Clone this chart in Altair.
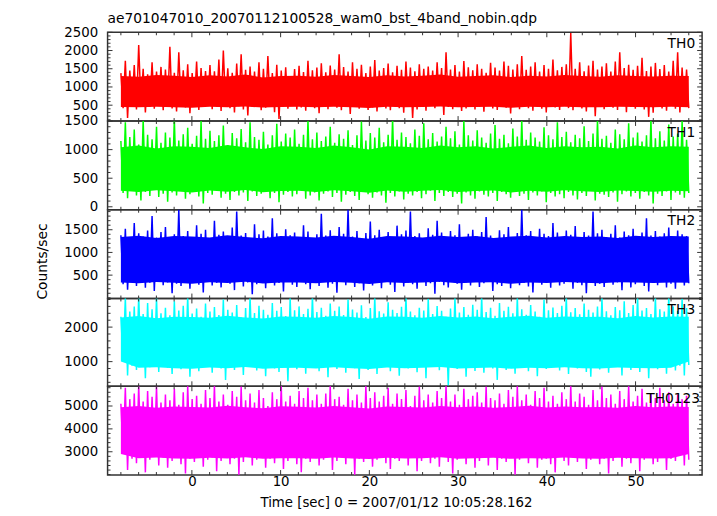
import altair as alt
import numpy as np
import pandas as pd

FONT = "DejaVu Sans"
TITLE = "ae701047010_20070112100528_wam0_bst_4band_nobin.qdp"
XTITLE = "Time [sec] 0 = 2007/01/12 10:05:28.162"
T_START, T_END = -8.0, 56.0
X_DOMAIN = [-9.5, 57.5]
X_LABELS = [0, 10, 20, 30, 40, 50]

# ---- TH0 (red): local peaks / troughs every 0.5 s, dense core every 2 s ----
TH0_HI = [1380, 1720, 1450, 1600, 2150, 1500, 1350, 1680, 1420, 1550,
          1480, 2100, 1390, 1950, 1460, 1620, 1380, 1700, 1520, 1440,
          1600, 1430, 1750, 2000, 1510, 1390, 1640, 1900, 1470, 1560,
          1420, 1680, 1500, 1850, 1380, 1610, 1450, 1540, 1300, 1490,
          1580, 1410, 1720, 1460, 1530, 1650, 1400, 1590, 1480, 1900,
          1550, 1420, 1680, 1500, 1610, 1380, 1560, 1740, 1450, 1520,
          1640, 1400, 1580, 1470, 1700, 1530, 1430, 1620, 1500, 1560,
          1450, 1680, 1520, 1950, 1480, 1600, 1420, 1710, 1540, 1460,
          1620, 1500, 1390, 1660, 1530, 1450, 1700, 1580, 1480, 1620,
          1850, 1470, 1560, 1680, 1420, 1600, 1500, 1750, 1460, 1550,
          1620, 2480, 1500, 1680, 1430, 1590, 1720, 1480, 1560, 1650,
          1420, 1700, 1950, 1520, 1610, 1470, 1580, 1800, 1440, 1560,
          1660, 1490, 1600, 1420, 1720, 1950, 1530, 1480]
TH0_LO = [420, 150, 480, 380, 520, 300, 450, 400, 530, 360,
          470, 410, 330, 500, 440, 280, 490, 370, 450, 520,
          390, 460, 340, 510, 420, 300, 470, 380, 220, 450,
          500, 360, 430, 480, 310, 120, 460, 400, 520, 380,
          440, 350, 490, 420, 280, 470, 390, 510, 430, 360,
          480, 260, 450, 400, 520, 370, 440, 330, 490, 410,
          360, 470, 420, 290, 500, 150, 380, 460, 350, 480,
          420, 500, 230, 450, 390, 470, 340, 410, 500, 380,
          450, 320, 480, 410, 370, 500, 430, 270, 460, 390,
          510, 420, 350, 470, 400, 300, 480, 440, 370, 500,
          420, 360, 490, 410, 330, 470, 200, 450, 390, 500,
          430, 370, 480, 310, 460, 400, 520, 380, 180, 290,
          470, 410, 350, 490, 400, 300, 450, 420]
TH0_CORE_HI = [1300, 1280, 1330, 1310, 1270, 1320, 1290, 1340, 1260, 1300, 1310,
               1280, 1330, 1300, 1270, 1320, 1290, 1310, 1340, 1280, 1300, 1320,
               1270, 1310, 1290, 1330, 1300, 1280, 1320, 1300, 1290, 1310, 1300]
TH0_CORE_LO = [450, 440, 460, 445, 430, 455, 440, 465, 435, 450, 455,
               440, 460, 445, 425, 455, 440, 450, 465, 440, 450, 460,
               430, 455, 440, 460, 445, 440, 455, 450, 440, 455, 445]

# ---- TH1 (green) ----
TH1_HI = [1150, 1480, 1220, 1350, 1090, 1520, 1260, 1180, 1400, 1120,
          1300, 1210, 1540, 1160, 1270, 1380, 1100, 1240, 1500, 1190,
          1330, 1150, 1250, 1420, 1080, 1290, 1200, 1360, 1130, 1480,
          1220, 1170, 1310, 1090, 1250, 1450, 1140, 1280, 1210, 1350,
          1100, 1260, 1520, 1180, 1300, 1150, 1230, 1400, 1120, 1270,
          1190, 1340, 1080, 1250, 1490, 1160, 1290, 1210, 1380, 1130,
          1260, 1540, 1170, 1300, 1220, 1110, 1350, 1240, 1460, 1180,
          1290, 1140, 1230, 1400, 1200, 1320, 1090, 1500, 1250, 1160,
          1340, 1210, 1120, 1280, 1430, 1190, 1260, 1110, 1370, 1230,
          1520, 1170, 1300, 1210, 1140, 1390, 1250, 1180, 1480, 1220,
          1310, 1130, 1260, 1200, 1410, 1150, 1280, 1520, 1190, 1240,
          1120, 1350, 1270, 1180, 1460, 1210, 1300, 1140, 1250, 1530,
          1200, 1320, 1160, 1440, 1230, 1280, 1500, 1170]
TH1_LO = [240, 150, 280, 200, 110, 260, 190, 300, 170, 230,
          90, 250, 200, 280, 140, 220, 270, 180, 60, 240,
          210, 290, 160, 230, 120, 260, 200, 250, 100, 270,
          190, 230, 280, 150, 240, 80, 210, 260, 180, 220,
          290, 140, 200, 250, 110, 230, 270, 170, 240, 90,
          210, 260, 190, 120, 280, 220, 160, 250, 200, 70,
          240, 180, 270, 130, 230, 200, 260, 150, 220, 280,
          100, 240, 190, 260, 170, 230, 60, 250, 200, 140,
          270, 210, 180, 240, 100, 260, 220, 160, 280, 190,
          230, 120, 250, 200, 270, 80, 240, 180, 220, 150,
          260, 200, 130, 240, 190, 280, 110, 230, 210, 170,
          250, 90, 220, 270, 180, 240, 140, 260, 200, 60,
          230, 190, 270, 120, 250, 210, 160, 240]
TH1_CORE_HI = [1040, 1070, 1020, 1060, 1050, 1030, 1080, 1040, 1010, 1060, 1050,
               1030, 1070, 1040, 1000, 1060, 1050, 1030, 1070, 1040, 1060, 1020,
               1050, 1070, 1030, 1060, 1040, 1050, 1020, 1070, 1040, 1060, 1050]
TH1_CORE_LO = [280, 260, 290, 270, 250, 285, 265, 295, 255, 275, 280,
               260, 290, 270, 245, 285, 265, 280, 295, 260, 275, 285,
               250, 280, 265, 290, 270, 260, 285, 275, 265, 280, 270]

# ---- TH2 (blue) ----
TH2_HI = [1380, 1520, 1300, 1650, 1420, 1350, 1480, 1800, 1330, 1450,
          1560, 1290, 1400, 1950, 1360, 1470, 1320, 1600, 1410, 1500,
          1280, 1700, 1390, 1460, 1340, 1550, 1900, 1370, 1430, 1310,
          1620, 1400, 1480, 1350, 1750, 1420, 1300, 1510, 1380, 1440,
          1330, 1600, 1460, 1290, 1400, 1850, 1370, 1490, 1320, 1560,
          1410, 1950, 1350, 1470, 1300, 1430, 1680, 1380, 1500, 1340,
          1450, 1320, 1590, 1400, 1480, 1900, 1360, 1420, 1310, 1530,
          1390, 1700, 1440, 1330, 1470, 1380, 1620, 1290, 1410, 1500,
          1350, 1450, 1780, 1370, 1310, 1490, 1400, 1560, 1340, 1430,
          1950, 1380, 1470, 1300, 1520, 1410, 1360, 1650, 1440, 1320,
          1480, 1390, 1580, 1310, 1450, 1370, 1900, 1420, 1500, 1340,
          1410, 1600, 1330, 1460, 1380, 1520, 1290, 1440, 1750, 1370,
          1470, 1350, 1420, 1550, 1310, 1480, 1400, 1360]
TH2_LO = [300, 180, 350, 260, 400, 220, 330, 150, 380, 280,
          340, 100, 310, 260, 390, 200, 350, 290, 120, 370,
          270, 330, 230, 400, 310, 170, 360, 250, 340, 80,
          300, 380, 210, 350, 270, 330, 140, 390, 290, 240,
          360, 300, 190, 340, 260, 400, 220, 310, 110, 370,
          280, 350, 240, 320, 160, 390, 270, 330, 210, 360,
          290, 130, 380, 250, 340, 300, 200, 370, 260, 320,
          90, 350, 280, 230, 390, 310, 180, 340, 270, 360,
          240, 320, 380, 150, 300, 260, 350, 210, 390, 280,
          330, 250, 120, 360, 290, 340, 220, 380, 270, 310,
          370, 200, 330, 280, 100, 350, 260, 310, 240, 380,
          290, 340, 170, 360, 230, 300, 390, 260, 140, 330,
          280, 350, 230, 310, 200, 370, 270, 320]
TH2_CORE_HI = [1340, 1370, 1320, 1360, 1350, 1330, 1380, 1340, 1310, 1360, 1350,
               1330, 1370, 1340, 1300, 1360, 1350, 1330, 1370, 1340, 1360, 1320,
               1350, 1370, 1330, 1360, 1340, 1350, 1320, 1370, 1340, 1360, 1350]
TH2_CORE_LO = [340, 320, 350, 330, 310, 345, 325, 355, 315, 335, 340,
               320, 350, 330, 305, 345, 325, 340, 355, 320, 335, 345,
               310, 340, 325, 350, 330, 320, 345, 335, 325, 340, 330]

# ---- TH3 (cyan) ----
TH3_HI = [2300, 2850, 2450, 2600, 2900, 2380, 2700, 2520, 2850, 2400,
          2560, 2340, 2750, 2480, 2620, 2900, 2390, 2540, 2300, 2680,
          2450, 2580, 2350, 2800, 2500, 2420, 2640, 2280, 2550, 2880,
          2410, 2620, 2500, 2360, 2700, 2470, 2580, 2320, 2850, 2490,
          2600, 2380, 2530, 2900, 2440, 2560, 2330, 2680, 2470, 2600,
          2350, 2800, 2510, 2420, 2630, 2290, 2550, 2880, 2460, 2390,
          2720, 2500, 2410, 2590, 2900, 2450, 2340, 2560, 2480, 2820,
          2380, 2610, 2470, 2300, 2540, 2850, 2420, 2580, 2360, 2650,
          2500, 2900, 2440, 2560, 2330, 2700, 2470, 2590, 2400, 2880,
          2520, 2360, 2640, 2450, 2300, 2800, 2490, 2570, 2410, 2620,
          2900, 2430, 2550, 2370, 2680, 2500, 2420, 2600, 2850, 2460,
          2340, 2580, 2490, 2750, 2410, 2640, 2900, 2480, 2550, 2380,
          2870, 2520, 2450, 2900, 2600, 2470, 2820, 2550]
TH3_LO = [1050, 600, 880, 760, 950, 520, 840, 900, 700, 980,
          820, 640, 930, 780, 870, 560, 960, 720, 850, 900,
          680, 940, 800, 470, 890, 760, 920, 610, 850, 980,
          740, 880, 580, 950, 800, 700, 910, 430, 860, 780,
          960, 650, 840, 900, 720, 870, 550, 930, 790, 850,
          680, 920, 810, 500, 880, 760, 950, 640, 830, 900,
          720, 860, 590, 940, 800, 870, 690, 920, 520, 850,
          900, 750, 880, 300, 960, 790, 840, 560, 910, 730,
          860, 680, 930, 800, 470, 890, 760, 940, 650, 830,
          900, 720, 860, 580, 950, 790, 840, 880, 740, 920,
          640, 870, 800, 930, 700, 560, 890, 770, 940, 680,
          850, 910, 600, 880, 760, 940, 700, 830, 520, 900,
          780, 860, 650, 920, 740, 880, 600, 900]
TH3_CORE_HI = [2280, 2320, 2260, 2300, 2290, 2270, 2330, 2280, 2250, 2310, 2300,
               2270, 2320, 2290, 2240, 2310, 2300, 2270, 2320, 2280, 2310, 2260,
               2300, 2330, 2270, 2310, 2290, 2300, 2260, 2320, 2280, 2310, 2300]
TH3_CORE_LO = [1000, 820, 840, 810, 790, 830, 805, 845, 795, 815, 820,
               800, 840, 810, 785, 830, 805, 820, 845, 800, 815, 830,
               790, 820, 805, 840, 810, 800, 830, 815, 805, 820, 1000]

# ---- TH0123 (magenta) ----
TH0123_HI = [5100, 5800, 5300, 5550, 5900, 5200, 5650, 5400, 5850, 5150,
             5500, 5250, 5750, 5050, 5600, 5900, 5300, 5450, 5100, 5700,
             5350, 5900, 5200, 5500, 5050, 5650, 5400, 5850, 5250, 5550,
             5150, 5700, 5350, 5000, 5600, 5300, 5900, 5200, 5450, 5100,
             5650, 5350, 5800, 5250, 5500, 5100, 5550, 5900, 5300, 5400,
             5050, 5750, 5250, 5500, 5150, 5900, 5350, 5600, 5200, 5450,
             5800, 5100, 5550, 5300, 5700, 5000, 5450, 5850, 5250, 5500,
             5150, 5650, 5350, 5900, 5200, 5500, 5050, 5750, 5300, 5450,
             5600, 5150, 5850, 5350, 5250, 5550, 5100, 5700, 5400, 5900,
             5250, 5500, 5050, 5650, 5350, 5800, 5200, 5450, 5100, 5600,
             5300, 5900, 5200, 5550, 5400, 5050, 5700, 5250, 5850, 5350,
             5500, 5100, 5650, 5300, 5900, 5200, 5450, 5750, 5150, 5550,
             5350, 5800, 5250, 5600, 5100, 5500, 5300, 5450]
TH0123_LO = [2900, 2200, 2700, 2500, 2800, 2100, 2650, 2850, 2400, 2750,
             2300, 2600, 2850, 2450, 2050, 2700, 2550, 2800, 2350, 2650,
             2750, 2150, 2600, 2800, 2450, 2700, 2000, 2550, 2850, 2400,
             2650, 2800, 2300, 2700, 2500, 2850, 2250, 2600, 2750, 2450,
             2100, 2700, 2550, 2850, 2400, 2650, 2800, 2200, 2600, 2750,
             2450, 2850, 2000, 2700, 2550, 2800, 2350, 2650, 2750, 2500,
             2250, 2700, 2600, 2850, 2400, 2750, 2150, 2600, 2800, 2500,
             2700, 2350, 2850, 2550, 2050, 2650, 2750, 2450, 2800, 2300,
             2600, 2750, 2400, 2850, 2200, 2700, 2550, 2800, 2000, 2650,
             2750, 2500, 2850, 2300, 2650, 2700, 2450, 2100, 2800, 2600,
             2400, 2750, 2550, 2850, 2250, 2650, 2800, 2450, 2700, 2050,
             2600, 2850, 2350, 2700, 2500, 2800, 2150, 2650, 2750, 2450,
             2550, 2800, 2200, 2700, 2600, 2850, 2400, 2650]
TH0123_CORE_HI = [4950, 5000, 4920, 4980, 4960, 4930, 5010, 4950, 4900, 4990, 4970,
                  4930, 5000, 4950, 4890, 4980, 4960, 4930, 5000, 4950, 4980, 4920,
                  4960, 5010, 4930, 4980, 4950, 4960, 4920, 5000, 4950, 4980, 4960]
TH0123_CORE_LO = [2900, 2720, 2750, 2710, 2690, 2740, 2705, 2755, 2695, 2715, 2720,
                  2700, 2750, 2710, 2680, 2740, 2705, 2720, 2755, 2700, 2715, 2740,
                  2690, 2720, 2705, 2750, 2710, 2700, 2740, 2715, 2705, 2720, 2900]

W = 603
FRAME = "#333333"

X_MAJOR = [0, 10, 20, 30, 40, 50]
X_MINOR = [v for v in range(-8, 57, 2) if v % 10 != 0]


def panel(name, hi, lo, core_hi, core_lo, color, domain, labels, minor_step, height,
          label_x=596, label_y=15.7, bottom=False, ytitle=False, title=False):
    n = len(hi)
    t = np.linspace(T_START, T_END, 2 * n)
    v = np.empty(2 * n)
    v[0::2] = hi
    v[1::2] = lo
    df = pd.DataFrame({"t": t, "v": v})
    core = pd.DataFrame({"t": np.linspace(T_START, T_END, len(core_hi)),
                         "v": core_lo, "v2": core_hi})

    xscale = alt.Scale(domain=X_DOMAIN, nice=False, zero=False)
    yscale = alt.Scale(domain=domain, nice=False, zero=False)

    yaxis_kw = dict(values=labels, format="d", ticks=False, tickSize=0, domain=False,
                    grid=False, labelPadding=10, labelFontSize=13.5, labelFont=FONT,
                    labelColor="black")
    if ytitle:
        yaxis_kw.update(title="Counts/sec", titleFont=FONT, titleFontSize=14,
                        titleFontWeight="normal", titleColor="black", titleAngle=270,
                        titleX=-62, titleY=52, titleAlign="center", titleBaseline="alphabetic")
    else:
        yaxis_kw.update(title="")
    yaxis = alt.Axis(**yaxis_kw)
    yenc = alt.Y("v:Q", scale=yscale, axis=yaxis)

    if bottom:
        xaxis = alt.Axis(values=X_LABELS, format="d", ticks=False, tickSize=0, domain=False,
                         grid=False, labelPadding=11, labelBaseline="alphabetic",
                         labelFlush=False, labelFontSize=13.5, labelFont=FONT,
                         labelColor="black", title="")
        xenc = alt.X("t:Q", scale=xscale, axis=xaxis)
    else:
        xenc = alt.X("t:Q", scale=xscale, axis=None)

    band = alt.Chart(core).mark_area(color=color, opacity=1, clip=True).encode(
        x=xenc, y=yenc, y2="v2:Q")
    line = alt.Chart(df).mark_line(
        color=color, strokeWidth=1.5, strokeJoin="bevel", clip=True
    ).encode(x=xenc, y=yenc)

    # inward ticks on all four sides
    ymaj = list(labels)
    start = int(np.ceil(domain[0] / minor_step) * minor_step)
    ymin = [val for val in range(start, int(domain[1]) + 1, minor_step) if val not in ymaj]
    layers = [band, line]
    for vals, ln in ((ymaj, 5), (ymin, 3)):
        d = pd.DataFrame({"v": vals})
        layers.append(alt.Chart(d).mark_rule(color=FRAME, strokeWidth=1).encode(
            y=yenc, x=alt.value(0), x2=alt.value(ln)))
        layers.append(alt.Chart(d).mark_rule(color=FRAME, strokeWidth=1).encode(
            y=yenc, x=alt.value(W), x2=alt.value(W - ln)))
    for vals, ln in ((X_MAJOR, 5), (X_MINOR, 3)):
        d = pd.DataFrame({"t": vals})
        layers.append(alt.Chart(d).mark_rule(color=FRAME, strokeWidth=1).encode(
            x=xenc, y=alt.value(0), y2=alt.value(ln)))
        layers.append(alt.Chart(d).mark_rule(color=FRAME, strokeWidth=1).encode(
            x=xenc, y=alt.value(height), y2=alt.value(height - ln)))

    txt = alt.Chart(pd.DataFrame({"label": [name]})).mark_text(
        align="right", baseline="alphabetic", font=FONT, fontSize=14, color="black"
    ).encode(text="label:N", x=alt.value(label_x), y=alt.value(label_y))
    layers.append(txt)

    if bottom:
        layers.append(alt.Chart(pd.DataFrame({"label": [XTITLE]})).mark_text(
            align="center", baseline="alphabetic", font=FONT, fontSize=13.5, color="black"
        ).encode(text="label:N", x=alt.value(293), y=alt.value(height + 32)))

    ch = alt.layer(*layers).properties(width=W, height=height)
    if title:
        ch = ch.properties(title=alt.TitleParams(
            TITLE, anchor="start", frame="group", font=FONT, fontSize=14,
            fontWeight="normal", color="black", baseline="alphabetic", offset=-12))
    return ch


p0 = panel("TH0", TH0_HI, TH0_LO, TH0_CORE_HI, TH0_CORE_LO, "#ff0000", [65, 2500],
           [500, 1000, 1500, 2000, 2500], 100, 90, title=True)
p1 = panel("TH1", TH1_HI, TH1_LO, TH1_CORE_HI, TH1_CORE_LO, "#00ff00", [-52, 1500],
           [0, 500, 1000, 1500], 100, 90)
p2 = panel("TH2", TH2_HI, TH2_LO, TH2_CORE_HI, TH2_CORE_LO, "#0000ff", [-15, 1940],
           [500, 1000, 1500], 100, 90, ytitle=True)
p3 = panel("TH3", TH3_HI, TH3_LO, TH3_CORE_HI, TH3_CORE_LO, "#00ffff", [286, 2829],
           [1000, 2000], 200, 89)
p4 = panel("TH0123", TH0123_HI, TH0123_LO, TH0123_CORE_HI, TH0123_CORE_LO, "#ff00ff",
           [1985, 5864], [3000, 4000, 5000], 200, 90,
           label_x=601, label_y=16.5, bottom=True)

chart = alt.vconcat(p0, p1, p2, p3, p4, spacing=0, bounds="flush").resolve_scale(
    x="independent", y="independent"
).properties(
    padding={"left": 27, "top": 0, "right": 5, "bottom": 5},
    background="white",
).configure_view(stroke=FRAME, strokeWidth=1.5)

chart.save("out.html", embed_options={"renderer": "svg", "actions": False})
